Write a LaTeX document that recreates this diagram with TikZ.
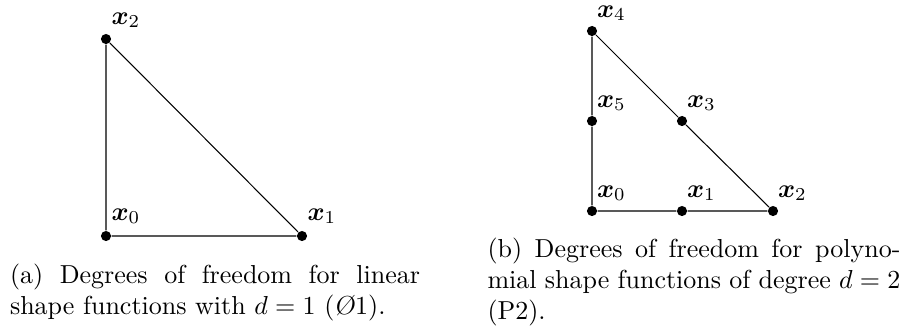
\documentclass[tikz,border=0pt]{standalone}
\usepackage{amsmath}
\usepackage{bm}
\usetikzlibrary{positioning}
\tikzset{
  dof/.style={circle, fill=black, inner sep=0pt, minimum size=3.9pt},
  dofname/.style={anchor=base west, inner sep=0pt},
  elem/.style={line width=0.4pt},
  subcap/.style={anchor=north west, inner sep=0pt, text width=157.7pt, align=justify},
}

\begin{document}
\begin{tikzpicture}[x=0.3846pt, y=-0.3846pt]
\useasboundingbox (0,0) rectangle (901,331);

% ------------------------------------------------------------------ (a)
\node[dof] (a0) at (106,236) {};
\node[dof] (a1) at (302,236) {};
\node[dof] (a2) at (106,39) {};
\draw[elem] (a0) -- (a1) -- (a2) -- (a0);
\node[dofname] (la0) at ([shift={(5,-16)}]a0) {$\bm{x}_0$};
\node[dofname] (la1) at ([shift={(5,-16)}]a1) {$\bm{x}_1$};
\node[dofname] (la2) at ([shift={(5,-15)}]a2) {$\bm{x}_2$};
\node[subcap] (capa) at (9.5,263.5)
  {(a) Degrees of freedom for linear\linebreak
   shape functions with $d = 1$ (\textsl{\O}1).};

% ------------------------------------------------------------------ (b)
\node[dof] (b0) at (592,211) {};
\node[dof] (b1) at (682,211) {};
\node[dof] (b2) at (773,211) {};
\node[dof] (b3) at (682,121) {};
\node[dof] (b4) at (592,31) {};
\node[dof] (b5) at (592,121) {};
\draw[elem] (b0) -- (b1) -- (b2) -- (b3) -- (b4) -- (b5) -- (b0);
\foreach \i in {0,...,5}
  \node[dofname] (lb\i) at ([shift={(4.5,-14)}]b\i) {$\bm{x}_\i$};
\node[subcap, text width=158.8pt] (capb) at (487,237.5)
  {(b) Degrees of freedom for polyno-\linebreak
   mial shape functions of degree $d = 2$\linebreak
   (P2).};
\end{tikzpicture}
\end{document}
